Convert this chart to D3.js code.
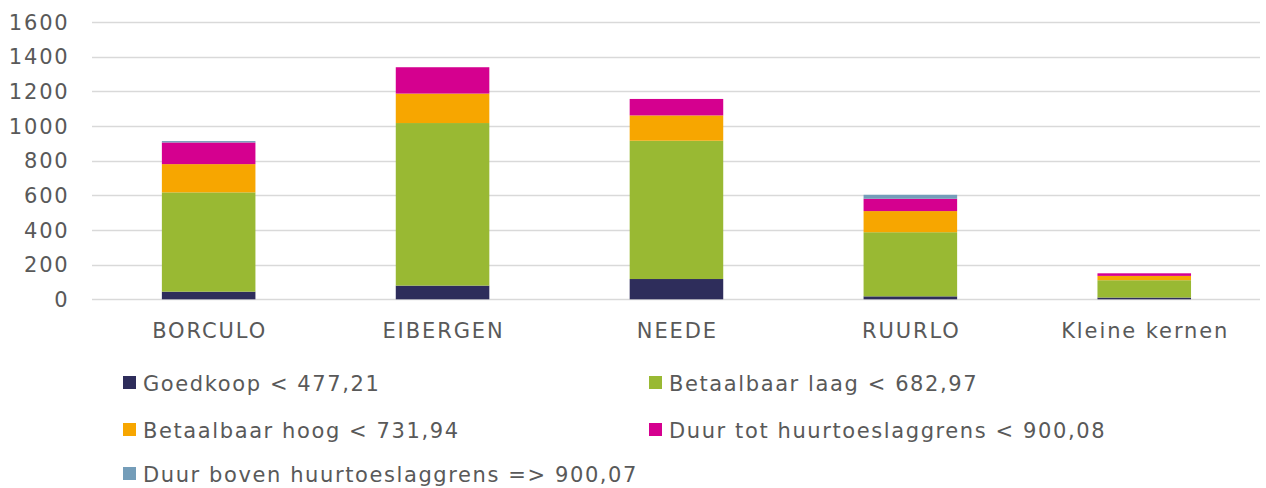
<!DOCTYPE html>
<html><head><meta charset="utf-8">
<script src="https://cdn.jsdelivr.net/npm/d3@7"></script>
<style>body{margin:0;background:#fff;} svg{display:block;font-family:"DejaVu Sans",Verdana,sans-serif;}</style>
</head><body><svg id="c" width="1266" height="488"></svg>
<script>
const categories = ["BORCULO","EIBERGEN","NEEDE","RUURLO","Kleine kernen"];
const seriesNames = ["Goedkoop < 477,21","Betaalbaar laag < 682,97","Betaalbaar hoog < 731,94","Duur tot huurtoeslaggrens < 900,08","Duur boven huurtoeslaggrens => 900,07"];
const goedkoop = [44, 79, 117, 17, 10];
const betaalbaarLaag = [573, 938, 798, 370, 100];
const betaalbaarHoog = [163, 170, 146, 122, 25];
const duurTot = [125, 152, 95, 71, 15];
const duurBoven = [8, 0, 0, 23, 0];
const yTicks = [0,200,400,600,800,1000,1200,1400,1600];
const colors = ["#2e2d5b","#99b933","#f7a600","#d5008f","#749db9"];

const svg = d3.select("#c");
const x = d3.scaleBand().domain(categories).range([91.7, 1261.2]).padding(0);
const y = d3.scaleLinear().domain([0,1600]).range([299.3, 22]);

const data = categories.map((c,i)=>({cat:c, s0:goedkoop[i], s1:betaalbaarLaag[i], s2:betaalbaarHoog[i], s3:duurTot[i], s4:duurBoven[i]}));
const stack = d3.stack().keys(["s0","s1","s2","s3","s4"])(data);

// gridlines
svg.append("g").selectAll("line").data(yTicks).join("line")
  .attr("x1",92).attr("x2",1260).attr("y1",d=>Math.round(y(d))+0.5).attr("y2",d=>Math.round(y(d))+0.5)
  .attr("stroke","#d9d9d9").attr("stroke-width",1.5);

// y labels
svg.append("g").selectAll("text").data(yTicks).join("text")
  .attr("x",69.5).attr("y",d=>y(d)).attr("dy","0.36em").attr("text-anchor","end")
  .attr("font-size",21).attr("letter-spacing",1.8).attr("fill","#595959").text(d=>d);

const bw = x.bandwidth()*0.4;
svg.append("g").selectAll("g").data(stack).join("g").attr("fill",(d,i)=>colors[i])
  .selectAll("rect").data(d=>d).join("rect")
  .attr("x",d=>x(d.data.cat)+(x.bandwidth()-bw)/2).attr("width",bw)
  .attr("y",d=>y(d[1])).attr("height",d=>Math.max(0,y(d[0])-y(d[1])));

// x labels
svg.append("g").selectAll("text").data(categories).join("text")
  .attr("x",d=>x(d)+x.bandwidth()/2+1).attr("y",338).attr("text-anchor","middle")
  .attr("font-size",21).attr("letter-spacing",1.9).attr("fill","#595959").text(d=>d);

// legend
const legPos = [[123,383],[649,383],[123,430],[649,430],[123,474]];
const lg = svg.append("g").selectAll("g").data(seriesNames).join("g")
  .attr("transform",(d,i)=>`translate(${legPos[i][0]},${legPos[i][1]})`);
lg.append("rect").attr("x",0).attr("y",-7).attr("width",13).attr("height",13).attr("fill",(d,i)=>colors[i]);
lg.append("text").attr("x",20).attr("y",0).attr("dy","0.36em").attr("font-size",21).attr("letter-spacing",1.6).attr("fill","#595959").text(d=>d);
</script></body></html>
